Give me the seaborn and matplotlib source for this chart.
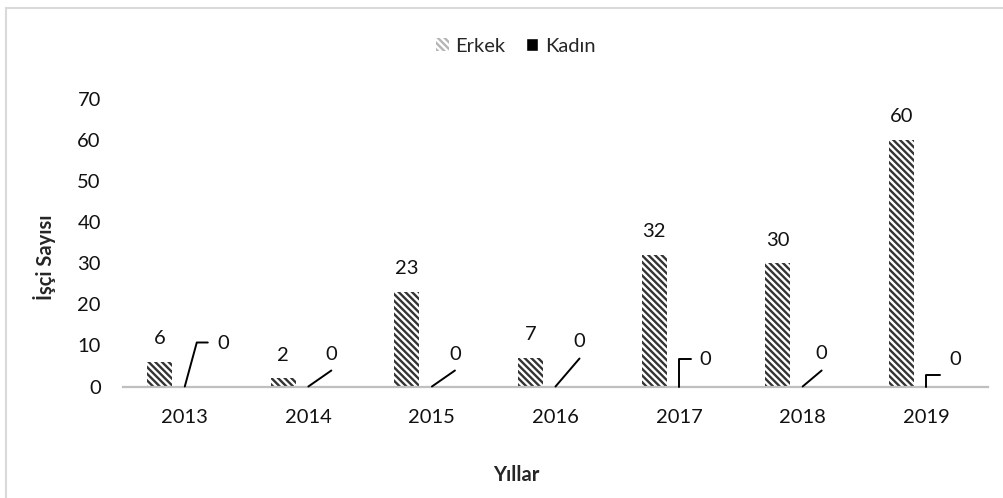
import matplotlib
matplotlib.use("Agg")
import matplotlib.pyplot as plt
from matplotlib.lines import Line2D
from matplotlib.patches import Patch
from matplotlib.transforms import IdentityTransform
import pandas as pd
import seaborn as sns

# data
years = ["2013", "2014", "2015", "2016", "2017", "2018", "2019"]
erkek = [6, 2, 23, 7, 32, 30, 60]
kadin = [0, 0, 0, 0, 0, 0, 0]

# leader lines for the zero labels (pixel offsets from the bar base)
lead_lines = [
    [(0, 0), (12, 44), (23, 44)],
    [(0, 0), (23, 16)],
    [(0, 0), (23, 16)],
    [(0, 0), (24, 28)],
    [(0, 0), (0, 28), (12, 28)],
    [(0, 0), (19, 16)],
    [(0, 0), (0, 12), (14, 12)],
]
lead_text = [(38, 43), (23, 32), (23, 32), (24, 45), (26, 27), (19, 33), (29, 27)]

sns.set_style("white")
plt.rcParams["font.family"] = ["Lato", "DejaVu Sans"]
plt.rcParams["hatch.linewidth"] = 1.7

df = pd.DataFrame({
    "Yıl": years * 2,
    "Değer": erkek + kadin,
    "Cinsiyet": ["Erkek"] * len(years) + ["Kadın"] * len(years),
})

fig = plt.figure(figsize=(10.04, 4.98), dpi=100)
ax = fig.add_axes([123 / 1004, (498 - 386.5) / 498, 865 / 1004, 287.5 / 498])

sns.barplot(data=df, x="Yıl", y="Değer", hue="Cinsiyet",
            hue_order=["Erkek", "Kadın", " "], order=years,
            width=0.607, ax=ax, legend=False, errorbar=None)

hatch = "\\" * 5
for bar in ax.containers[0]:
    bar.set_facecolor("white")
    bar.set_edgecolor("#333333")
    bar.set_linewidth(0)
    bar.set_hatch(hatch)
for bar in ax.containers[1]:
    bar.set_facecolor("black")
    bar.set_linewidth(0)

ax.set_ylim(0, 70)
ax.set_xlim(-0.5, len(years) - 0.5)
ax.set_yticks(range(0, 80, 10))
sns.despine(ax=ax, left=True)
ax.spines["bottom"].set_color("#bfbfbf")
ax.spines["bottom"].set_linewidth(1.6)
ax.tick_params(axis="both", length=0, labelsize=14.5, colors="#111111")
ax.tick_params(axis="y", pad=16)
ax.tick_params(axis="x", pad=16)

ax.set_xlabel("Yıllar", fontsize=14.5, fontweight="bold")
ax.set_ylabel("İşçi Sayısı", fontsize=14.5, fontweight="bold")
ax.xaxis.label.set_va("center")
ax.yaxis.label.set_va("center")
ax.xaxis.set_label_coords((516.7 - 123) / 865, (386.5 - 475) / 287.5)
ax.yaxis.set_label_coords((44 - 123) / 865, (386.5 - 257) / 287.5)

# value labels for Erkek
ax.bar_label(ax.containers[0], labels=[str(v) for v in erkek],
             padding=10.5, fontsize=14.5, color="#111111")

# zero labels for Kadın with leader lines
for i, val in enumerate(kadin):
    bx, by = ax.transData.transform((i, val))
    xs = [bx + p[0] for p in lead_lines[i]]
    ys = [by + p[1] for p in lead_lines[i]]
    fig.add_artist(Line2D(xs, ys, transform=IdentityTransform(),
                          color="black", lw=1.4))
    ax.annotate(str(val), xy=(i, val), xytext=lead_text[i],
                textcoords="offset pixels", ha="center", va="center",
                fontsize=14.5, color="#111111")

handles = [
    Patch(facecolor="white", edgecolor="#b5b5b5", hatch=hatch, lw=0, label="Erkek"),
    Patch(facecolor="black", label="Kadın"),
]
fig.legend(handles=handles, loc="center", bbox_to_anchor=(516 / 1004, 1 - 46 / 498),
           ncol=2, frameon=False, fontsize=14.5, handlelength=0.6, handleheight=0.6,
           handletextpad=0.35, columnspacing=1.0)

# chart frame (only top and left edges visible)
fig.add_artist(Line2D([6 / 1004, 6 / 1004], [0, 1 - 8 / 498],
                      transform=fig.transFigure, color="#d9d9d9", lw=1.5))
fig.add_artist(Line2D([6 / 1004, 1], [1 - 8 / 498, 1 - 8 / 498],
                      transform=fig.transFigure, color="#d9d9d9", lw=1.5))

fig.savefig("out.png", dpi=100)
